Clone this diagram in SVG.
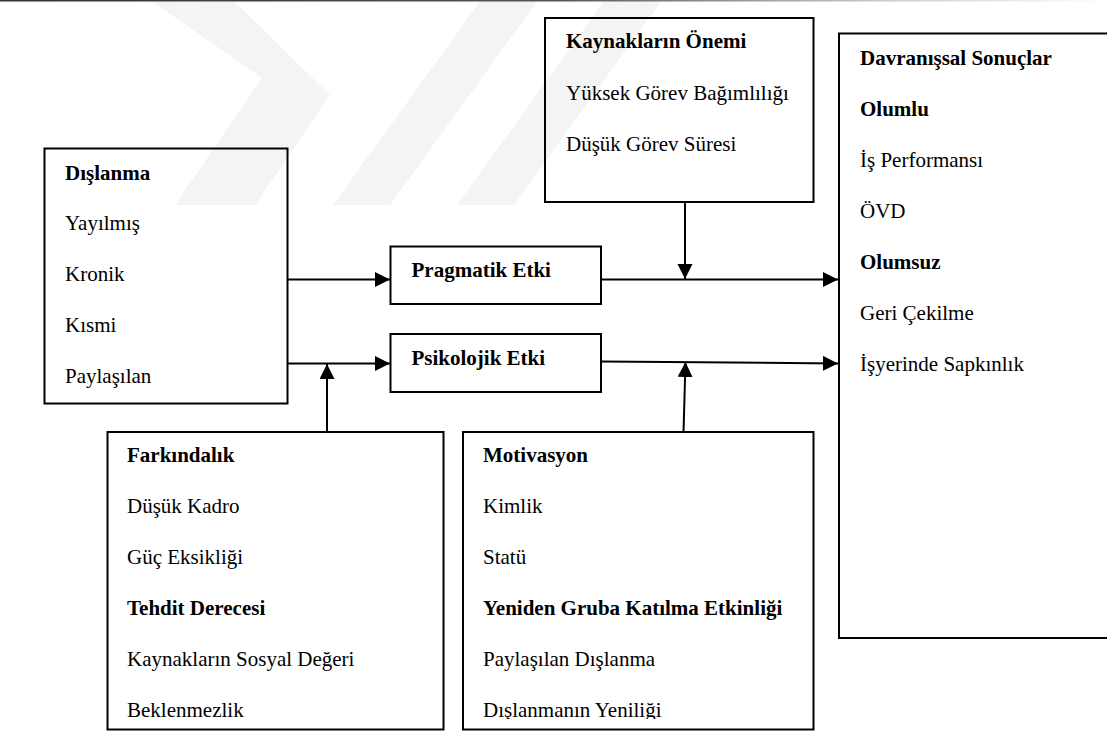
<svg xmlns="http://www.w3.org/2000/svg" width="1107" height="731" viewBox="0 0 1107 731">
  <style>
    .box { fill: none; stroke: #000; stroke-width: 2; }
    .t { font-family: 'Liberation Serif', 'Times New Roman', Tinos, 'DejaVu Serif', serif; font-size: 21px; fill: #000; }
    .b { font-weight: bold; }
    .c { fill: none; stroke: #000; stroke-width: 2; marker-end: url(#ah); }
    .wm { fill: #f4f4f4; }
  </style>
  <defs>
    <marker id="ah" markerUnits="userSpaceOnUse" markerWidth="16" markerHeight="16" refX="15" refY="7.5" orient="auto">
      <path d="M0,0 L15,7.5 L0,15 z" fill="#000"/>
    </marker>
    <linearGradient id="topline" x1="0" y1="0" x2="1" y2="0">
      <stop offset="0" stop-color="#333"/>
      <stop offset="0.5" stop-color="#555"/>
      <stop offset="0.8" stop-color="#ccc"/>
      <stop offset="1" stop-color="#fff"/>
    </linearGradient>
    <clipPath id="clipMot">
      <rect x="463" y="432" width="351" height="287"/>
    </clipPath>
  </defs>
  <rect x="0" y="0" width="1107" height="731" fill="#fff"/>
  <g id="watermark">
    <polygon class="wm" points="150,0 233,0 330,95 255,205 175,205 262,78"/>
    <polygon class="wm" points="333,205 390,205 538,0 481,0"/>
    <polygon class="wm" points="457,205 514,205 662,0 605,0"/>
  </g>
  <rect x="0" y="0" width="1107" height="1.5" fill="url(#topline)"/>

  <g id="connectors">
    <line class="c" x1="287" y1="279.5" x2="390" y2="279.5"/>
    <line class="c" x1="287" y1="363.5" x2="390" y2="363.5"/>
    <line class="c" x1="327" y1="432" x2="327" y2="364"/>
    <line class="c" x1="601" y1="279.5" x2="838" y2="279.5"/>
    <line class="c" x1="685" y1="202" x2="685" y2="279"/>
    <line class="c" x1="602" y1="361.5" x2="838" y2="363.5"/>
    <line class="c" x1="683.5" y1="432" x2="685.5" y2="362"/>
  </g>

  <g id="dislanma">
    <rect class="box" x="44.5" y="148.5" width="243" height="255" fill="#fff"/>
    <text class="t b" x="65" y="180" font-family="Liberation Serif, serif">Dışlanma</text>
    <text class="t" x="65" y="230">Yayılmış</text>
    <text class="t" x="65" y="281">Kronik</text>
    <text class="t" x="65" y="332">Kısmi</text>
    <text class="t" x="65" y="383">Paylaşılan</text>
  </g>

  <g id="pragmatik">
    <rect class="box" x="390.5" y="246.5" width="210.5" height="57.5"/>
    <text class="t b" x="411.5" y="277">Pragmatik Etki</text>
  </g>

  <g id="psikolojik">
    <rect class="box" x="390.5" y="334" width="210.5" height="58"/>
    <text class="t b" x="411.5" y="365">Psikolojik Etki</text>
  </g>

  <g id="kaynaklar">
    <rect class="box" x="545" y="18" width="268.5" height="184"/>
    <text class="t b" x="566" y="48">Kaynakların Önemi</text>
    <text class="t" x="566" y="100">Yüksek Görev Bağımlılığı</text>
    <text class="t" x="566" y="151">Düşük Görev Süresi</text>
  </g>

  <g id="davranissal">
    <rect class="box" x="839" y="33.5" width="300" height="604.5"/>
    <text class="t b" x="860" y="65">Davranışsal Sonuçlar</text>
    <text class="t b" x="860" y="116">Olumlu</text>
    <text class="t" x="860" y="167">İş Performansı</text>
    <text class="t" x="860" y="218">ÖVD</text>
    <text class="t b" x="860" y="269">Olumsuz</text>
    <text class="t" x="860" y="320">Geri Çekilme</text>
    <text class="t" x="860" y="371">İşyerinde Sapkınlık</text>
  </g>

  <g id="farkindalik">
    <rect class="box" x="107.5" y="432" width="336" height="297.5"/>
    <text class="t b" x="127" y="462">Farkındalık</text>
    <text class="t" x="127" y="513">Düşük Kadro</text>
    <text class="t" x="127" y="564">Güç Eksikliği</text>
    <text class="t b" x="127" y="615">Tehdit Derecesi</text>
    <text class="t" x="127" y="666">Kaynakların Sosyal Değeri</text>
    <text class="t" x="127" y="717">Beklenmezlik</text>
  </g>

  <g id="motivasyon">
    <rect class="box" x="463" y="432" width="350.5" height="297.5"/>
    <text class="t b" x="483" y="462">Motivasyon</text>
    <text class="t" x="483" y="513">Kimlik</text>
    <text class="t" x="483" y="564">Statü</text>
    <text class="t b" x="483" y="615">Yeniden Gruba Katılma Etkinliği</text>
    <text class="t" x="483" y="666">Paylaşılan Dışlanma</text>
    <text class="t" x="483" y="717" clip-path="url(#clipMot)">Dışlanmanın Yeniliği</text>
  </g>
</svg>
